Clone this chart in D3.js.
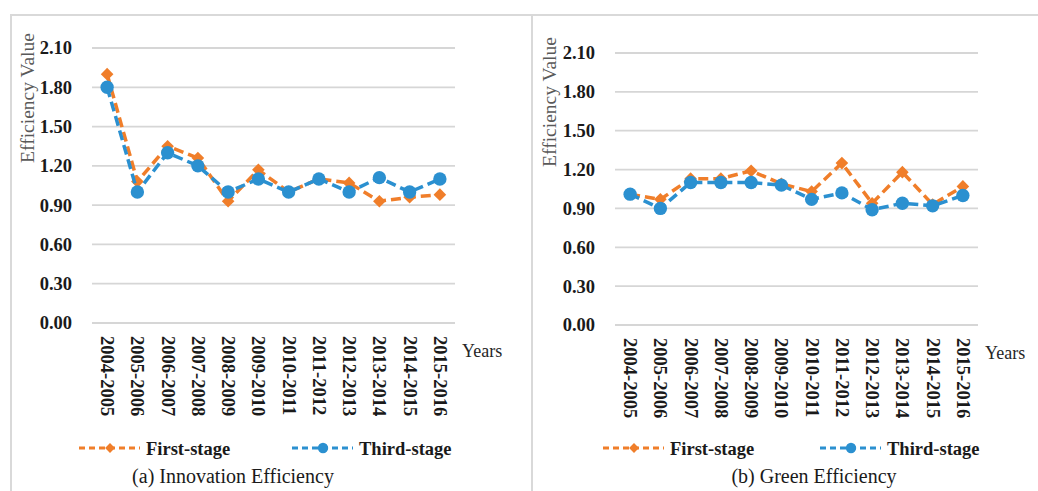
<!DOCTYPE html>
<html>
<head>
<meta charset="utf-8">
<script src="https://cdn.jsdelivr.net/npm/d3@7"></script>
<style>
  html, body { margin: 0; padding: 0; background: #fff; }
  svg { display: block; font-family: "Liberation Serif", "Times New Roman", serif; }
</style>
</head>
<body>
<svg id="chart" width="1038" height="491"></svg>
<script>
// periods on the x axis
var years = ["2004-2005", "2005-2006", "2006-2007", "2007-2008", "2008-2009", "2009-2010",
             "2010-2011", "2011-2012", "2012-2013", "2013-2014", "2014-2015", "2015-2016"];

// (a) innovation efficiency
var innovFirst = [1.90, 1.08, 1.35, 1.26, 0.93, 1.17, 1.00, 1.10, 1.07, 0.93, 0.96, 0.98];
var innovThird = [1.80, 1.00, 1.30, 1.20, 1.00, 1.10, 1.00, 1.10, 1.00, 1.11, 1.00, 1.10];

// (b) green efficiency
var greenFirst = [1.01, 0.97, 1.13, 1.13, 1.19, 1.09, 1.03, 1.25, 0.94, 1.18, 0.93, 1.07];
var greenThird = [1.01, 0.90, 1.10, 1.10, 1.10, 1.08, 0.97, 1.02, 0.89, 0.94, 0.92, 1.00];

var yTicks = [0, 0.3, 0.6, 0.9, 1.2, 1.5, 1.8, 2.1];
var seriesNames = ["First-stage", "Third-stage"];

var orange = "#f07e2a";
var blue = "#2b90d0";
var grid = "#d6d6d6";

var svg = d3.select("#chart");

// panel frames
svg.append("path")
  .attr("d", "M11,491 V15 H1038 M532,15 V491")
  .attr("fill", "none")
  .attr("stroke", "#d9d9d9")
  .attr("stroke-width", 2);

function drawPanel(p) {
  var g = svg.append("g");

  var x = d3.scaleBand()
    .domain(years)
    .range([p.left, p.right]);

  var y = d3.scaleLinear()
    .domain([0, 2.1])
    .range([p.bottom, p.top]);

  // gridlines
  g.append("g")
    .selectAll("line").data(yTicks).enter().append("line")
      .attr("x1", p.left).attr("x2", p.right)
      .attr("y1", d => y(d)).attr("y2", d => y(d))
      .attr("stroke", grid)
      .attr("stroke-width", 1.8);

  // y axis labels
  var yAxis = d3.axisLeft(y)
    .tickValues(yTicks)
    .tickFormat(d3.format(".2f"))
    .tickSize(0)
    .tickPadding(20);

  g.append("g")
    .attr("transform", `translate(${p.left},0)`)
    .call(yAxis)
    .call(a => a.select(".domain").remove())
    .call(a => a.selectAll("text")
      .attr("font-family", "Liberation Serif")
      .attr("font-size", 18.5)
      .attr("font-weight", "bold")
      .attr("fill", "#1a1a1a"));

  // x axis labels, rotated to read downwards
  var xAxis = d3.axisBottom(x).tickSize(0);
  g.append("g")
    .attr("transform", `translate(0,${p.bottom})`)
    .call(xAxis)
    .call(a => a.select(".domain").remove())
    .call(a => a.selectAll("text")
      .attr("font-family", "Liberation Serif")
      .attr("font-size", 18.5)
      .attr("font-weight", "bold")
      .attr("fill", "#1a1a1a")
      .attr("text-anchor", "start")
      .attr("dy", null)
      .attr("y", 0)
      .attr("dominant-baseline", "central")
      .attr("transform", "translate(0,13) rotate(90)"));

  // axis titles
  g.append("text")
    .attr("transform", `translate(${p.titleX},${p.titleY}) rotate(-90)`)
    .attr("text-anchor", "middle")
    .attr("dominant-baseline", "central")
    .attr("font-size", 19.5)
    .attr("fill", "#595959")
    .text("Efficiency Value");

  g.append("text")
    .attr("x", p.right + 7)
    .attr("y", p.bottom + 34)
    .attr("font-size", 18)
    .attr("fill", "#262626")
    .text("Years");

  var line = d3.line()
    .x((d, i) => x(years[i]) + x.bandwidth() / 2)
    .y(d => y(d));

  // diamond = square turned 45 degrees
  var series = [
    {name: seriesNames[0], values: p.first, color: orange, shape: d3.symbolSquare, size: 80, rot: 45},
    {name: seriesNames[1], values: p.third, color: blue, shape: d3.symbolCircle, size: 140, rot: 0}
  ];

  series.forEach(function(s) {
    g.append("path")
      .datum(s.values)
      .attr("d", line)
      .attr("fill", "none")
      .attr("stroke", s.color)
      .attr("stroke-width", 3.5)
      .attr("stroke-dasharray", "10,5");

    g.append("g")
      .selectAll("path").data(s.values).enter().append("path")
        .attr("d", d3.symbol().type(s.shape).size(s.size))
        .attr("transform", (d, i) => `translate(${x(years[i]) + x.bandwidth() / 2},${y(d)}) rotate(${s.rot})`)
        .attr("fill", s.color);
  });

  // legend
  series.forEach(function(s, i) {
    var lx = p.legend[i];
    var lg = g.append("g").attr("transform", `translate(${lx},448)`);
    lg.append("line")
      .attr("x1", 0).attr("x2", 61)
      .attr("stroke", s.color)
      .attr("stroke-width", 3)
      .attr("stroke-dasharray", "6,4");
    lg.append("path")
      .attr("d", d3.symbol().type(s.shape).size(s.size * 0.6))
      .attr("transform", `translate(31,0) rotate(${s.rot})`)
      .attr("fill", s.color);
    lg.append("text")
      .attr("x", 67)
      .attr("y", 7)
      .attr("font-size", 18.5)
      .attr("font-weight", "bold")
      .attr("fill", "#1a1a1a")
      .text(s.name);
  });

  // caption
  g.append("text")
    .attr("x", p.captionX)
    .attr("y", 483)
    .attr("text-anchor", "middle")
    .attr("font-size", 20)
    .attr("fill", "#1a1a1a")
    .text(p.caption);
}

drawPanel({
  left: 92, right: 455, top: 48, bottom: 323,
  titleX: 27, titleY: 98,
  first: innovFirst, third: innovThird,
  legend: [79, 292],
  captionX: 233,
  caption: "(a) Innovation Efficiency"
});

drawPanel({
  left: 615, right: 978, top: 53, bottom: 325,
  titleX: 549, titleY: 102,
  first: greenFirst, third: greenThird,
  legend: [603, 820],
  captionX: 814,
  caption: "(b) Green Efficiency"
});
</script>
</body>
</html>
